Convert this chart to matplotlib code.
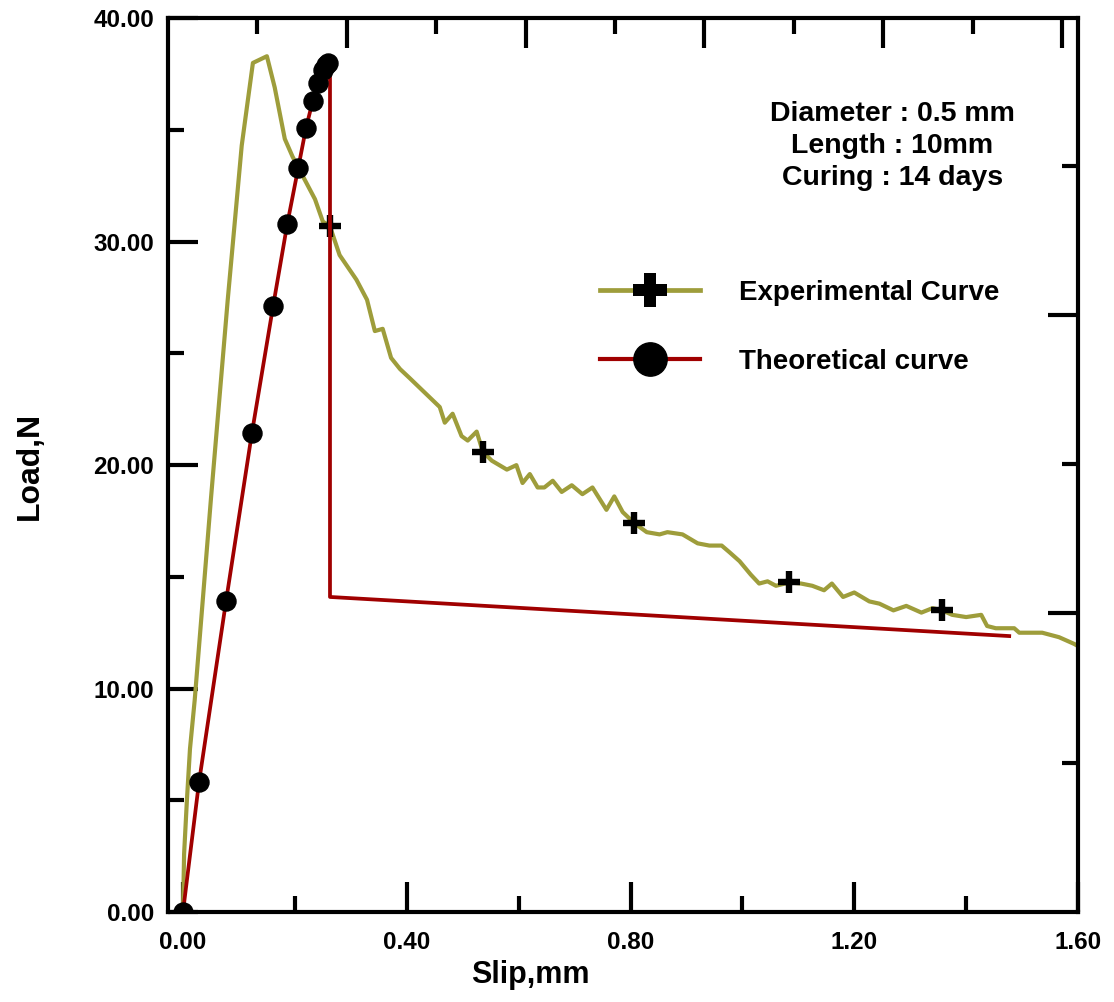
import numpy as np
import matplotlib
matplotlib.use("Agg")
import matplotlib.pyplot as plt
from matplotlib.lines import Line2D
from matplotlib.ticker import MultipleLocator, FormatStrFormatter, FixedLocator, NullFormatter

plt.rcParams['font.family'] = ['Liberation Sans', 'DejaVu Sans']
plt.rcParams['font.weight'] = 'bold'

OLIVE = "#9e9d3b"
RED = "#a00000"

# experimental pull-out curve (slip in mm, load in N)
exp_slip = [0, 0.002, 0.007, 0.0125, 0.021, 0.05, 0.08, 0.105, 0.125, 0.150,
            0.164, 0.182, 0.196, 0.236, 0.25, 0.2625, 0.280, 0.310, 0.329, 0.343,
            0.357, 0.372, 0.388, 0.405, 0.459, 0.468, 0.482, 0.498, 0.509, 0.525,
            0.536, 0.552, 0.579, 0.596, 0.607, 0.620, 0.634, 0.646, 0.661, 0.677,
            0.695, 0.714, 0.732, 0.757, 0.771, 0.786, 0.807, 0.829, 0.852, 0.866,
            0.893, 0.920, 0.941, 0.963, 0.977, 0.995, 1.015, 1.03, 1.045, 1.06,
            1.084, 1.105, 1.125, 1.146, 1.16, 1.18, 1.20, 1.227, 1.245, 1.27,
            1.293, 1.32, 1.34, 1.357, 1.375, 1.40, 1.427, 1.4375, 1.453, 1.486,
            1.495, 1.536, 1.566, 1.593, 1.60]
exp_load = [0, 2.6, 5.0, 7.3, 9.5, 18.5, 27.4, 34.3, 38.0, 38.3,
            36.9, 34.6, 33.8, 31.9, 30.9, 30.7, 29.4, 28.3, 27.4, 26.0,
            26.1, 24.8, 24.3, 23.9, 22.6, 21.9, 22.3, 21.3, 21.1, 21.5,
            20.6, 20.2, 19.8, 20.0, 19.2, 19.6, 19.0, 19.0, 19.3, 18.8,
            19.1, 18.7, 19.0, 18.0, 18.6, 17.9, 17.4, 17.0, 16.9, 17.0,
            16.9, 16.5, 16.4, 16.4, 16.1, 15.7, 15.1, 14.7, 14.8, 14.6,
            14.75, 14.7, 14.6, 14.4, 14.7, 14.1, 14.3, 13.9, 13.8, 13.5,
            13.7, 13.4, 13.6, 13.5, 13.3, 13.2, 13.3, 12.8, 12.7, 12.7,
            12.5, 12.5, 12.3, 12.0, 11.9]
exp_marks = [0.2625, 0.536, 0.807, 1.084, 1.357]

# theoretical curve: rising branch with points, drop and softening tail
th_slip = [0, 0.0286, 0.0769, 0.1233, 0.161, 0.1865, 0.206, 0.220, 0.232,
           0.241, 0.250, 0.256, 0.259, 0.2628, 0.2628, 1.477]
th_load = [0, 5.8, 13.9, 21.45, 27.1, 30.8, 33.3, 35.1, 36.3,
           37.1, 37.7, 37.9, 38.0, 37.7, 14.1, 12.35]
n_th_points = 13

info = "Diameter : 0.5 mm\nLength : 10mm\nCuring : 14 days"

fig = plt.figure(figsize=(11.14, 10.02), dpi=100)
ax = fig.add_axes([0.1508, 0.0898, 0.8169, 0.8920])

mark_idx = [int(i) for i in np.flatnonzero(np.isin(exp_slip, exp_marks))]
ax.plot(exp_slip, exp_load, color=OLIVE, lw=3.0, marker='+', markevery=mark_idx,
        ms=16, mew=4.6, mec='black', zorder=2)
ax.plot(th_slip, th_load, color=RED, lw=2.7, marker='o', markevery=list(range(n_th_points)),
        ms=13.7, mfc='black', mec='black', zorder=3)

ax.set_xlim(-0.0268, 1.6)
ax.set_ylim(0, 40)
ax.xaxis.set_major_locator(MultipleLocator(0.4))
ax.xaxis.set_minor_locator(MultipleLocator(0.2))
ax.yaxis.set_major_locator(MultipleLocator(10))
ax.yaxis.set_minor_locator(MultipleLocator(5))
ax.xaxis.set_major_formatter(FormatStrFormatter('%.2f'))
ax.yaxis.set_major_formatter(FormatStrFormatter('%.2f'))

ax.tick_params(which='both', direction='in', width=3.0, labelsize=17.5, pad=10)
ax.tick_params(which='major', length=21.5)
ax.tick_params(which='minor', length=11.5)
ax.tick_params(axis='x', pad=14)
for s in ax.spines.values():
    s.set_linewidth(3.0)

# unlabelled scales on top and right
ax_t = ax.twiny()
ax_t.set_xlim(0, 1)
step_t = 89.4 / 910
ax_t.xaxis.set_major_locator(FixedLocator([k * step_t for k in range(2, 11, 2)]))
ax_t.xaxis.set_minor_locator(FixedLocator([k * step_t for k in range(1, 10, 2)]))
ax_t.xaxis.set_major_formatter(NullFormatter())
ax_t.tick_params(which='both', direction='in', width=3.0)
ax_t.tick_params(which='major', length=21.5)
ax_t.tick_params(which='minor', length=11.5)

ax_r = ax.twinx()
ax_r.set_ylim(0, 1)
step_r = 149.3 / 894
ax_r.yaxis.set_major_locator(FixedLocator([k * step_r for k in range(2, 7, 2)]))
ax_r.yaxis.set_minor_locator(FixedLocator([k * step_r for k in range(1, 6, 2)]))
ax_r.yaxis.set_major_formatter(NullFormatter())
ax_r.tick_params(which='both', direction='in', width=3.0)
ax_r.tick_params(which='major', length=21.5)
ax_r.tick_params(which='minor', length=11.5)

ax.set_xlabel("Slip,mm", fontsize=22, fontweight='bold', va='center')
ax.xaxis.set_label_coords(0.398, -0.0705)
ax.set_ylabel("Load,N", fontsize=23, fontweight='bold', va='center')
ax.yaxis.set_label_coords(-0.152, 0.499)

ax.text(0.796, 0.857, info, transform=ax.transAxes, ha='center', va='center',
        fontsize=20.5, fontweight='bold', linespacing=1.3)

handles = [
    Line2D([], [], color=OLIVE, lw=3.4, marker='P', ms=24, mfc='black', mec='black', mew=0),
    Line2D([], [], color=RED, lw=3.0, marker='o', ms=24, mfc='black', mec='black'),
]
labels = ["Experimental Curve", "Theoretical curve"]
ax.legend(handles, labels, loc='upper left', bbox_to_anchor=(0.4747, 0.707),
          frameon=False, borderpad=0, borderaxespad=0, numpoints=1,
          handlelength=3.6, handletextpad=1.4, labelspacing=1.55,
          prop={'size': 20, 'weight': 'bold'})

fig.savefig("out.png", dpi=100)
